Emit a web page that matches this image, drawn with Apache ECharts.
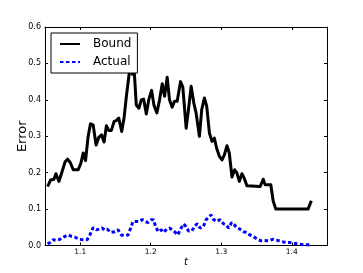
<!DOCTYPE html>
<html>
<head>
<meta charset="utf-8">
<script src="https://cdn.jsdelivr.net/npm/echarts@6/dist/echarts.min.js"></script>
<style>html,body{margin:0;padding:0;background:#fff}#c{width:363px;height:273px}</style>
</head>
<body>
<div id="c"></div>
<script>
var boundT = [1.0538,1.0580,1.0627,1.0655,1.0698,1.0736,1.0783,1.0820,1.0863,1.0900,1.0971,1.1009,1.1042,1.1075,1.1112,1.1145,1.1183,1.1225,1.1263,1.1301,1.1338,1.1371,1.1404,1.1442,1.1480,1.1513,1.1546,1.1588,1.1621,1.1654,1.1692,1.1715,1.1739,1.1762,1.1795,1.1833,1.1866,1.1899,1.1937,1.1974,1.2012,1.2045,1.2087,1.2125,1.2163,1.2196,1.2233,1.2266,1.2304,1.2337,1.2375,1.2422,1.2455,1.2502,1.2535,1.2573,1.2611,1.2643,1.2690,1.2723,1.2761,1.2794,1.2832,1.2869,1.2902,1.2935,1.2973,1.3011,1.3044,1.3081,1.3114,1.3152,1.3190,1.3223,1.3256,1.3293,1.3326,1.3364,1.3552,1.3595,1.3623,1.3703,1.3736,1.3774,1.4231,1.4278];
var boundV = [0.162,0.180,0.182,0.197,0.176,0.199,0.229,0.237,0.226,0.208,0.208,0.226,0.254,0.233,0.300,0.334,0.331,0.276,0.297,0.304,0.284,0.329,0.316,0.316,0.341,0.343,0.350,0.313,0.350,0.409,0.469,0.500,0.470,0.490,0.386,0.377,0.400,0.402,0.361,0.402,0.426,0.386,0.364,0.400,0.444,0.410,0.462,0.400,0.380,0.396,0.396,0.450,0.435,0.322,0.373,0.437,0.391,0.364,0.300,0.373,0.405,0.382,0.309,0.286,0.295,0.267,0.245,0.235,0.249,0.274,0.254,0.188,0.208,0.199,0.176,0.197,0.185,0.164,0.162,0.182,0.167,0.167,0.123,0.100,0.100,0.123];
var actualT = [1.0538,1.0571,1.0618,1.0665,1.0712,1.0783,1.0830,1.0877,1.0924,1.0985,1.1042,1.1098,1.1136,1.1183,1.1230,1.1268,1.1310,1.1348,1.1381,1.1433,1.1489,1.1536,1.1583,1.1630,1.1678,1.1715,1.1748,1.1795,1.1833,1.1880,1.1922,1.1960,1.2007,1.2040,1.2069,1.2106,1.2149,1.2182,1.2229,1.2266,1.2304,1.2337,1.2384,1.2417,1.2464,1.2502,1.2535,1.2582,1.2620,1.2657,1.2700,1.2747,1.2785,1.2822,1.2855,1.2893,1.2935,1.2982,1.3030,1.3067,1.3105,1.3147,1.3185,1.3218,1.3265,1.3312,1.3359,1.3406,1.3453,1.3515,1.3562,1.3609,1.3670,1.3727,1.3797,1.3858,1.3915,1.3972,1.4033,1.4104,1.4174,1.4254];
var actualV = [0.004,0.008,0.016,0.014,0.017,0.025,0.029,0.025,0.023,0.017,0.016,0.016,0.029,0.049,0.043,0.045,0.048,0.043,0.045,0.036,0.038,0.043,0.029,0.027,0.029,0.048,0.066,0.066,0.066,0.071,0.066,0.063,0.071,0.071,0.052,0.038,0.043,0.036,0.045,0.048,0.043,0.038,0.029,0.043,0.059,0.052,0.040,0.040,0.052,0.060,0.048,0.052,0.071,0.078,0.084,0.071,0.066,0.071,0.060,0.057,0.048,0.063,0.057,0.049,0.045,0.038,0.036,0.029,0.025,0.017,0.013,0.014,0.013,0.017,0.014,0.011,0.008,0.008,0.006,0.004,0.002,0.002];
var xTicks = [1.1,1.2,1.3,1.4];

function pairs(xs, ys){ return xs.map(function(x,i){ return [x, ys[i]]; }); }

var FONT = 'DejaVu Sans';
var tickCommon = {show:true, inside:true, length:3, lineStyle:{color:'#000', width:1}};
var lineCommon = {show:true, onZero:false, lineStyle:{color:'#000', width:1}};

var chart = echarts.init(document.getElementById('c'), null, {renderer:'canvas'});
chart.setOption({
  animation:false,
  backgroundColor:'#fff',
  textStyle:{fontFamily:FONT},
  grid:{left:45, top:27, width:282, height:218.5, containLabel:false, outerBoundsMode:'none'},
  legend:{
    orient:'vertical', left:51, top:33,
    padding:[5,6,5,8], itemGap:6, itemWidth:20, itemHeight:12,
    borderColor:'#000', borderWidth:1, backgroundColor:'#fff',
    itemStyle:{opacity:0, borderWidth:0},
    lineStyle:{opacity:1},
    textStyle:{fontFamily:FONT, fontSize:12, color:'#000', padding:[0,0,0,8]},
    data:['Bound','Actual'], z:10
  },
  xAxis:[{
    type:'value', min:1.05, max:1.45, position:'bottom',
    name:'t', nameLocation:'middle', nameGap:12, nameMoveOverlap:false,
    nameTextStyle:{fontFamily:FONT, fontStyle:'italic', fontSize:10, color:'#000'},
    axisLine:lineCommon,
    axisTick:Object.assign({customValues:xTicks}, tickCommon),
    axisLabel:{customValues:xTicks, fontFamily:FONT, fontSize:7.5, color:'#000', margin:2.5,
      formatter:function(v){return v.toFixed(1);}},
    splitLine:{show:false}
  },{
    type:'value', min:1.05, max:1.45, position:'top',
    axisLine:lineCommon,
    axisTick:Object.assign({customValues:xTicks}, tickCommon),
    axisLabel:{show:false}, splitLine:{show:false}
  }],
  yAxis:[{
    type:'value', min:0, max:0.6, interval:0.1, position:'left',
    name:'Error', nameLocation:'middle', nameGap:16, nameMoveOverlap:false,
    nameTextStyle:{fontFamily:FONT, fontSize:13, color:'#000'},
    axisLine:lineCommon, axisTick:tickCommon,
    axisLabel:{fontFamily:FONT, fontSize:8, color:'#000', margin:4,
      formatter:function(v){return v.toFixed(1);}},
    splitLine:{show:false}
  },{
    type:'value', min:0, max:0.6, interval:0.1, position:'right',
    axisLine:lineCommon, axisTick:tickCommon,
    axisLabel:{show:false}, splitLine:{show:false}
  }],
  series:[{
    name:'Bound', type:'line', symbol:'none', data:pairs(boundT, boundV),
    color:'#000',
    lineStyle:{color:'#000', width:3, join:'round'}
  },{
    name:'Actual', type:'line', symbol:'none', data:pairs(actualT, actualV),
    color:'#0000ff',
    lineStyle:{color:'#0000ff', width:3, type:[3.5,2.5], cap:'butt'}
  }]
});
</script>
</body>
</html>
